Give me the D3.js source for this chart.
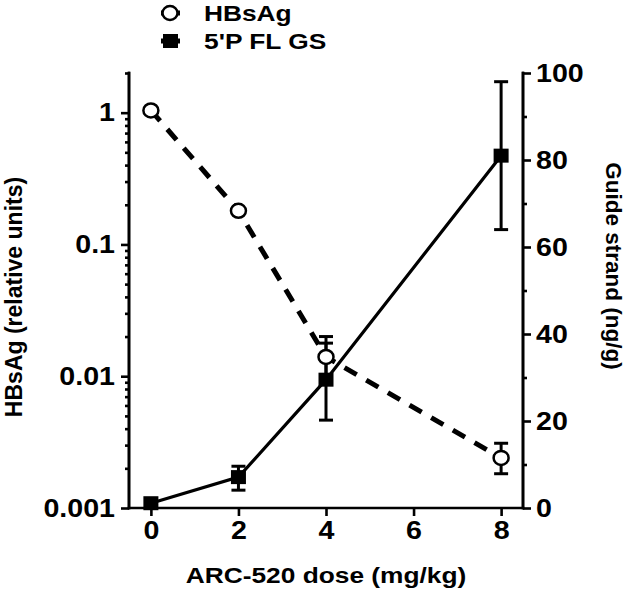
<!DOCTYPE html>
<html>
<head>
<meta charset="utf-8">
<script src="https://cdn.jsdelivr.net/npm/d3@7"></script>
<style>
  body { margin: 0; background: #fff; }
  text { font-family: "Liberation Sans", Arial, sans-serif; font-weight: bold; fill: #000; }
</style>
</head>
<body>
<svg id="chart" width="630" height="596"></svg>
<script>
// doses (mg/kg)
const doses = [0, 2, 4, 8];
// HBsAg, relative units (left log axis)
const hbsag = [1.04, 0.18, 0.014, 0.0024];
const hbsagLo = [1.04, 0.18, 0.0098, 0.00182];
const hbsagHi = [1.04, 0.18, 0.020, 0.0031];
// 5'P FL guide strand, ng/g (right axis)
const gs = [1.1, 7.1, 29.5, 81];
const gsLo = [1.1, 4.1, 20.2, 64];
const gsHi = [1.1, 9.6, 37.9, 98];

const xTicks = [0, 2, 4, 6, 8];
const leftTicks = [0.001, 0.01, 0.1, 1];
const rightTicks = [0, 20, 40, 60, 80, 100];

const svg = d3.select("#chart");
const plotL = 129, plotR = 523, plotT = 73, plotB = 508;
const SX = 1.17;      // the figure's text is a little wider than tall
const tickSX = 1.1;
const fs = "22.5px";

const x = d3.scaleLinear().domain([-0.5, 8.5]).range([plotL, plotR]);
const yL = d3.scaleLog().domain([0.001, 2]).range([plotB, plotT]);
const yR = d3.scaleLinear().domain([0, 100]).range([plotB, plotT]);

// left axis with log minor ticks
let minor = [];
[0.001, 0.01, 0.1, 1].forEach(d => {
  for (let k = 2; k <= 9; k++) if (d * k <= 2) minor.push(d * k);
});
const gL = svg.append("g").attr("transform", `translate(${plotL},0)`);
gL.call(d3.axisLeft(yL).tickValues(minor).tickSize(4).tickFormat(""));
gL.append("g").call(d3.axisLeft(yL).tickValues(leftTicks).tickSize(8)
  .tickFormat(d => d >= 1 ? "1" : String(d)).tickPadding(6));

// right axis
const gR = svg.append("g").attr("transform", `translate(${plotR},0)`);
gR.call(d3.axisRight(yR).tickValues(d3.range(10, 100, 20)).tickSize(4).tickFormat(""));
gR.append("g").call(d3.axisRight(yR).tickValues(rightTicks).tickSize(8).tickPadding(5));

// x axis
const gX = svg.append("g").attr("transform", `translate(0,${plotB})`);
gX.call(d3.axisBottom(x).tickValues(xTicks).tickSize(8).tickPadding(5));

svg.selectAll(".domain, .tick line")
  .attr("stroke", "#000").attr("stroke-width", 2.6);
svg.selectAll(".domain").attr("stroke-linecap", "square");
svg.selectAll(".tick text").style("font-size", "26px")
  .each(function () {
    const t = d3.select(this);
    const tx = +t.attr("x") || 0;
    t.attr("x", tx / tickSX).attr("transform", `scale(${tickSX},1)`);
  });

// plain axis lines without outer ticks
gL.selectAll(".domain").attr("d", `M0,${plotT}V${plotB}`);
gR.selectAll(".domain").attr("d", `M0,${plotT}V${plotB}`);
gX.selectAll(".domain").attr("d", `M${plotL},0H${plotR}`);

// HBsAg dashed line
const lineL = d3.line().x((d, i) => x(doses[i])).y(d => yL(d));
svg.append("path").datum(hbsag).attr("d", lineL)
  .attr("fill", "none").attr("stroke", "#000").attr("stroke-width", 5)
  .attr("stroke-dasharray", "14,11");

// GS solid line
const lineR = d3.line().x((d, i) => x(doses[i])).y(d => yR(d));
svg.append("path").datum(gs).attr("d", lineR)
  .attr("fill", "none").attr("stroke", "#000").attr("stroke-width", 3.2);

function errorBars(vals, lo, hi, scale) {
  const g = svg.append("g").attr("stroke", "#000").attr("stroke-width", 3);
  vals.forEach((v, i) => {
    if (lo[i] === hi[i]) return;
    const cx = x(doses[i]);
    g.append("line").attr("x1", cx).attr("x2", cx).attr("y1", scale(lo[i])).attr("y2", scale(hi[i]));
    [lo[i], hi[i]].forEach(e => {
      g.append("line").attr("x1", cx - 7).attr("x2", cx + 7).attr("y1", scale(e)).attr("y2", scale(e));
    });
  });
}
errorBars(hbsag, hbsagLo, hbsagHi, yL);
errorBars(gs, gsLo, gsHi, yR);

// markers
svg.append("g").selectAll("ellipse").data(hbsag).join("ellipse")
  .attr("cx", (d, i) => x(doses[i])).attr("cy", d => yL(d)).attr("rx", 7.5).attr("ry", 7)
  .attr("fill", "#fff").attr("stroke", "#000").attr("stroke-width", 2.5);
svg.append("g").selectAll("rect").data(gs).join("rect")
  .attr("x", (d, i) => x(doses[i]) - 7.5).attr("y", d => yR(d) - 7)
  .attr("width", 15).attr("height", 14).attr("fill", "#000");

// axis titles
svg.append("text").attr("transform", `translate(${(plotL + plotR) / 2},583) scale(${SX},1)`)
  .attr("text-anchor", "middle").style("font-size", fs).text("ARC-520 dose (mg/kg)");
svg.append("text").attr("transform", `translate(22,297) rotate(-90)`)
  .attr("text-anchor", "middle").style("font-size", "23px").text("HBsAg (relative units)");
svg.append("text").attr("transform", `translate(606,266) rotate(90)`)
  .attr("text-anchor", "middle").style("font-size", fs).text("Guide strand (ng/g)");

// legend
const leg = svg.append("g");
const legItems = ["HBsAg", "5'P FL GS"];
legItems.forEach((name, i) => {
  const cy = 13 + i * 28;
  leg.append("line").attr("x1", 161).attr("x2", 180).attr("y1", cy).attr("y2", cy)
    .attr("stroke", "#000").attr("stroke-width", 5);
  if (i === 0) {
    leg.append("ellipse").attr("cx", 170).attr("cy", cy).attr("rx", 7.5).attr("ry", 7)
      .attr("fill", "#fff").attr("stroke", "#000").attr("stroke-width", 2.5);
  } else {
    leg.append("rect").attr("x", 163).attr("y", cy - 7).attr("width", 15).attr("height", 14).attr("fill", "#000");
  }
  leg.append("text").attr("transform", `translate(204,${cy + 8}) scale(${SX},1)`)
    .style("font-size", fs).text(name);
});
</script>
</body>
</html>
